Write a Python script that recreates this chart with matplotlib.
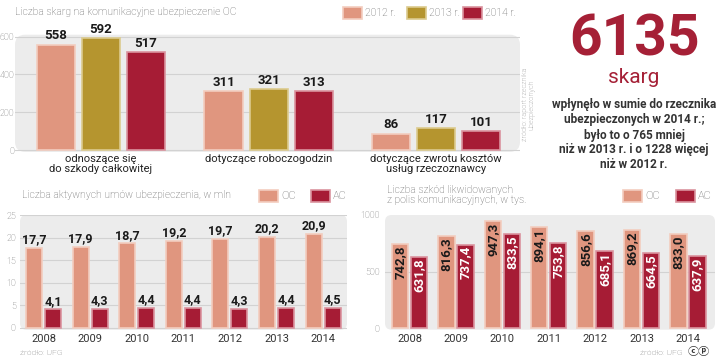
import numpy as np
import matplotlib
matplotlib.use('Agg')
import matplotlib.pyplot as plt
from matplotlib.patches import Rectangle, FancyBboxPatch

# ---- data ----
complaint_cats = ['odnoszące się\ndo szkody całkowitej', 'dotyczące roboczogodzin',
                  'dotyczące zwrotu kosztów\nusług rzeczoznawcy']
complaint_years = ['2012 r.', '2013 r.', '2014 r.']
complaints_2012 = [558, 311, 86]
complaints_2013 = [592, 321, 117]
complaints_2014 = [517, 313, 101]

years = ['2008', '2009', '2010', '2011', '2012', '2013', '2014']
contracts_oc = [17.7, 17.9, 18.7, 19.2, 19.7, 20.2, 20.9]
contracts_ac = [4.1, 4.3, 4.4, 4.4, 4.3, 4.4, 4.5]
claims_oc = [742.8, 816.3, 947.3, 894.1, 856.6, 869.2, 833.0]
claims_ac = [631.8, 737.4, 833.5, 753.8, 685.1, 664.5, 637.9]

# ---- style ----
SALMON, SALMON_E = '#E0967F', '#F3CDBF'
GOLD, GOLD_E = '#B5952F', '#DCCB8E'
RED, RED_E = '#A61C35', '#DA939E'
BOXC = '#ECECEC'
FONT = ['Roboto', 'DejaVu Sans']
GREY_TXT = '#5E5E5E'

W, H = 720, 358
fig = plt.figure(figsize=(7.2, 3.58), dpi=100)


def ax_px(x0, y0, x1, y1):
    ax = fig.add_axes([x0 / W, 1 - y1 / H, (x1 - x0) / W, (y1 - y0) / H])
    ax.patch.set_visible(False)
    for s in ax.spines.values():
        s.set_visible(False)
    box = FancyBboxPatch((0, 0), 1, 1, boxstyle='round,pad=0,rounding_size=0.02',
                         mutation_aspect=(x1 - x0) / (y1 - y0),
                         transform=ax.transAxes, facecolor=BOXC, edgecolor='none',
                         zorder=0, clip_on=False)
    ax.add_patch(box)
    ax.grid(axis='y', color='#D2D2D2', linewidth=0.8, zorder=1)
    ax.set_axisbelow(True)
    ax.tick_params(axis='y', length=0, labelsize=6.5, labelcolor='#6E6E6E')
    ax.tick_params(axis='x', length=0)
    return ax


def style_yticks(ax):
    for t in ax.get_yticklabels():
        t.set_family(FONT)
        t.set_fontweight('light')


def ftext(x, y, s, **kw):
    return fig.text(x / W, 1 - y / H, s, **kw)


def legend_patch(x, y, color, edge, label, w=19, h=12, fs=7.5):
    fig.add_artist(Rectangle((x / W, 1 - (y + h) / H), w / W, h / H, facecolor=color,
                             edgecolor=edge, linewidth=1.2, transform=fig.transFigure))
    ftext(x + w + 3, y + h / 2, label, ha='left', va='center', fontsize=fs,
          color=GREY_TXT, family=FONT, fontweight='light')


# ---- panel 1: complaints ----
ax1 = ax_px(15, 34.7, 520, 151.9)
x = np.arange(len(complaint_cats))
bw, off = 0.227, 0.269
for vals, dx, c, e in [(complaints_2012, -off, SALMON, SALMON_E),
                       (complaints_2013, 0, GOLD, GOLD_E),
                       (complaints_2014, off, RED, RED_E)]:
    bars = ax1.bar(x + dx, vals, bw, color=c, edgecolor=e, linewidth=1.2, zorder=2)
    for b, v in zip(bars, vals):
        ax1.text(b.get_x() + b.get_width() / 2, v + 12, str(v), ha='center', va='bottom',
                 fontsize=9.5, fontweight='bold', family=FONT, color='#1A1A1A')
ax1.set_xlim(-0.513, 2.50)
ax1.set_ylim(-10, 610)
ax1.set_yticks([0, 200, 400, 600])
ax1.set_xticks(x)
ax1.set_xticklabels(complaint_cats, fontsize=8, family=FONT, color='#222222',
                    linespacing=0.95)
ax1.tick_params(axis='x', pad=1.5)
ax1.tick_params(axis='y', pad=0.5)
style_yticks(ax1)

ftext(15, 12, 'Liczba skarg na komunikacyjne ubezpieczenie OC', ha='left', va='center',
      fontsize=7.5, color=GREY_TXT, family=FONT, fontweight='light')
legend_patch(343, 7, SALMON, SALMON_E, complaint_years[0])
legend_patch(407, 7, GOLD, GOLD_E, complaint_years[1])
legend_patch(463, 7, RED, RED_E, complaint_years[2])
ftext(529, 141, 'źródło: raport rzecznika\nubezpieczonych', rotation=90, ha='center',
      va='bottom', fontsize=5.2, color='#7A7A7A', family=FONT, fontweight='light',
      linespacing=0.9)

# ---- right text block ----
ftext(635, 55, '6135', ha='center', va='baseline', fontsize=41, fontweight='bold',
      color='#A52036', family=FONT)
ftext(634, 83, 'skarg', ha='center', va='baseline', fontsize=15, color='#A52036', family=FONT)
lines = ['wpłynęło w sumie do rzecznika', 'ubezpieczonych w 2014 r.;', 'było to o 765 mniej',
         'niż w 2013 r. i o 1228 więcej', 'niż w 2012 r.']
for i, s in enumerate(lines):
    ftext(634, 105 + 15 * i, s, ha='center', va='center', fontsize=8.5, fontweight='semibold',
          color='#333333', family=FONT)

# ---- panel 2: active contracts ----
ax2 = ax_px(20, 215, 347, 329.8)
xi = np.arange(len(years))
bw2, off2 = 0.343, 0.204
for vals, dx, c, e in [(contracts_oc, -off2, SALMON, SALMON_E), (contracts_ac, off2, RED, RED_E)]:
    bars = ax2.bar(xi + dx, vals, bw2, color=c, edgecolor=e, linewidth=1.2, zorder=2)
    for b, v in zip(bars, vals):
        ax2.text(b.get_x() + b.get_width() / 2, v + 0.4, f'{v:.1f}'.replace('.', ','),
                 ha='center', va='bottom', fontsize=9, fontweight='bold', family=FONT,
                 color='#1A1A1A')
ax2.set_xlim(-0.504, 6.513)
ax2.set_ylim(-0.4, 25)
ax2.set_yticks([0, 5, 10, 15, 20, 25])
ax2.set_xticks(xi)
ax2.set_xticklabels(years, fontsize=8, family=FONT, color='#333333')
ax2.tick_params(axis='x', pad=3)
ax2.tick_params(axis='y', pad=3)
style_yticks(ax2)
ftext(22, 195, 'Liczba aktywnych umów ubezpieczenia, w mln', ha='left', va='center',
      fontsize=7.5, color=GREY_TXT, family=FONT, fontweight='light')
legend_patch(259, 190, SALMON, SALMON_E, 'OC', fs=8)
legend_patch(311, 190, RED, RED_E, 'AC', fs=8)
ftext(20, 353, 'źródło: UFG', ha='left', va='center', fontsize=6, color='#6E6E6E',
      family=FONT, fontweight='light')

# ---- panel 3: claims ----
ax3 = ax_px(385, 215, 715, 329.7)
bw3, off3 = 0.356, 0.205
for vals, dx, c, e, tc in [(claims_oc, -off3, SALMON, SALMON_E, '#1A1A1A'),
                           (claims_ac, off3, RED, RED_E, 'white')]:
    bars = ax3.bar(xi + dx, vals, bw3, color=c, edgecolor=e, linewidth=1.2, zorder=2)
    for b, v in zip(bars, vals):
        ax3.text(b.get_x() + b.get_width() / 2, v - 12, f'{v:.1f}'.replace('.', ','),
                 ha='center', va='top', rotation=90, fontsize=9.5, fontweight='bold',
                 family=FONT, color=tc, zorder=3)
ax3.set_xlim(-0.528, 6.584)
ax3.set_ylim(-15, 1000)
ax3.set_yticks([0, 500, 1000])
ax3.grid(False)
ax3.axhline(500, color='#D2D2D2', linewidth=0.8, zorder=1)
ax3.set_xticks(xi)
ax3.set_xticklabels(years, fontsize=8, family=FONT, color='#333333')
ax3.tick_params(axis='x', pad=3)
ax3.tick_params(axis='y', pad=4)
style_yticks(ax3)
ftext(387, 195, 'Liczba szkód likwidowanych\nz polis komunikacyjnych, w tys.', ha='left',
      va='center', fontsize=7.5, color=GREY_TXT, family=FONT, fontweight='light',
      linespacing=1.05)
legend_patch(623, 190, SALMON, SALMON_E, 'OC', fs=8)
legend_patch(676, 190, RED, RED_E, 'AC', fs=8)
ftext(683, 353, 'źródło: UFG', ha='right', va='center', fontsize=6, color='#6E6E6E',
      family=FONT, fontweight='light')
ftext(688, 352, 'ⓒⓟ', ha='left', va='center', fontsize=8, fontweight='bold',
      color='#333333', family=['Noto Sans CJK SC', 'DejaVu Sans'])

fig.savefig('out.png', dpi=100)
